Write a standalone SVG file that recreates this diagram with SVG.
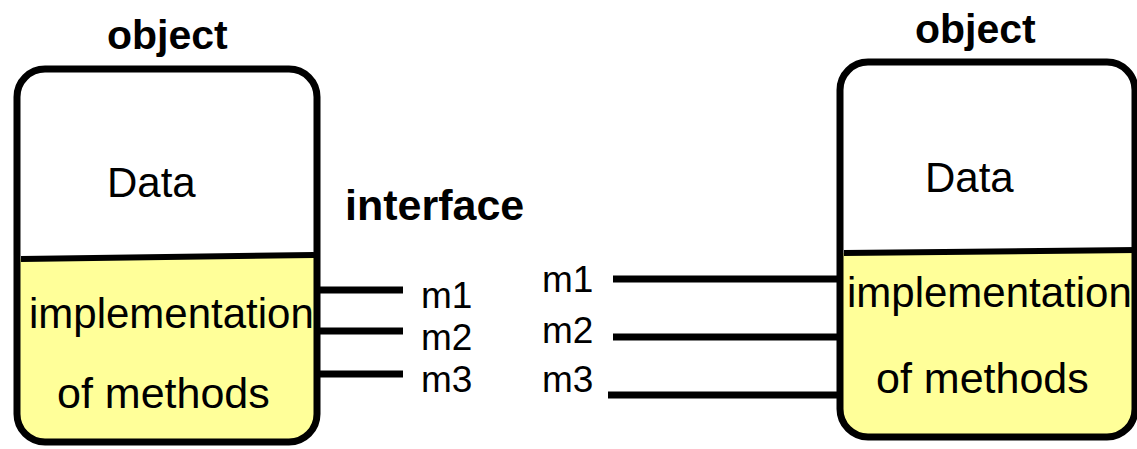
<svg xmlns="http://www.w3.org/2000/svg" width="1137" height="449" viewBox="0 0 1137 449">
<style>
.box{fill:none;stroke:#000;stroke-width:7}
.div{stroke:#000;stroke-width:6}
.con{stroke:#000;stroke-width:7;fill:none}
.t{font-family:"Liberation Sans",Arial,sans-serif;fill:#000}
.b{font-family:"Liberation Sans",Arial,sans-serif;font-weight:bold;fill:#000}
.m{font-size:37px}
</style>
<defs>
<clipPath id="cl"><rect x="17" y="69" width="300" height="373" rx="28"/></clipPath>
<clipPath id="cr"><rect x="840" y="62" width="295" height="375" rx="28"/></clipPath>
</defs>
<g id="connectors">
<line class="con" x1="319" y1="290" x2="403" y2="290"/>
<line class="con" x1="319" y1="331" x2="403" y2="331"/>
<line class="con" x1="319" y1="374" x2="403" y2="374"/>
<line class="con" x1="613" y1="279" x2="840" y2="279"/>
<line class="con" x1="613" y1="337" x2="840" y2="337"/>
<line class="con" x1="608" y1="395" x2="840" y2="395"/>
</g>
<g id="left-object">
<rect x="17" y="69" width="300" height="373" rx="28" fill="#fff"/>
<polygon points="0,259 330,255 330,449 0,449" fill="#ffff99" clip-path="url(#cl)"/>
<rect class="box" x="17" y="69" width="300" height="373" rx="28"/>
<line class="div" x1="21" y1="259" x2="314" y2="255"/>
<text class="b" x="107" y="49" font-size="41">object</text>
<text class="t" x="107" y="197" font-size="42">Data</text>
<text class="t" x="29" y="328" font-size="42">implementation</text>
<text class="t" x="57" y="408" font-size="43">of methods</text>
</g>
<g id="interface">
<text class="b" x="345" y="220" font-size="43">interface</text>
<text class="t m" x="421" y="308">m1</text>
<text class="t m" x="421" y="350">m2</text>
<text class="t m" x="421" y="392">m3</text>
<text class="t m" x="542" y="292">m1</text>
<text class="t m" x="542" y="343">m2</text>
<text class="t m" x="542" y="392">m3</text>
</g>
<g id="right-object">
<rect x="840" y="62" width="295" height="375" rx="28" fill="#fff"/>
<polygon points="830,253 1137,250 1137,449 830,449" fill="#ffff99" clip-path="url(#cr)"/>
<rect class="box" x="840" y="62" width="295" height="375" rx="28"/>
<line class="div" x1="844" y1="253" x2="1137" y2="250"/>
<text class="b" x="915" y="43" font-size="41">object</text>
<text class="t" x="925" y="192" font-size="42">Data</text>
<text class="t" x="847" y="307" font-size="42">implementation</text>
<text class="t" x="876" y="393" font-size="43">of methods</text>
</g>
</svg>
